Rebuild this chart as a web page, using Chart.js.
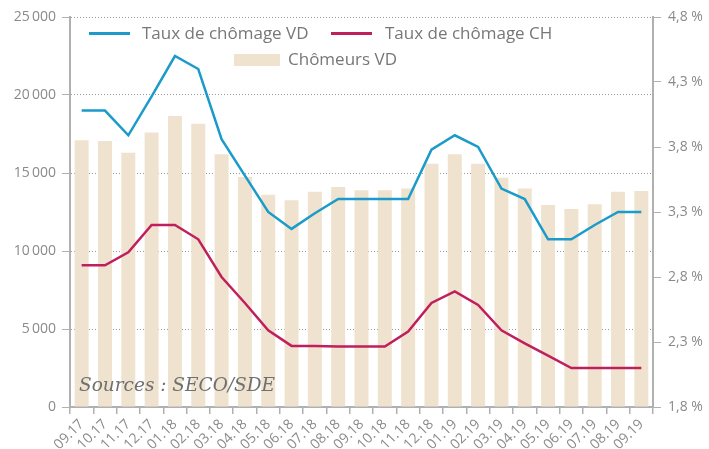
<!DOCTYPE html>
<html>
<head>
<meta charset="utf-8">
<script src="https://cdn.jsdelivr.net/npm/chart.js@4"></script>
<style>
  html, body { margin: 0; padding: 0; background: #fff; }
  #wrap { position: relative; width: 709px; height: 449px; }
  .lg { position: absolute; font-family: "Open Sans", sans-serif; font-size: 17px; color: #777; line-height: 20px; white-space: nowrap; }
  .sw { position: absolute; }
  #src { position: absolute; left: 79px; top: 374px; font-family: "DejaVu Serif", serif; font-style: italic; font-size: 18.5px; color: #707070; }
</style>
</head>
<body>
<div id="wrap">
  <canvas id="chart"></canvas>
  <div class="sw" style="left:89px;top:32px;width:41px;height:3px;background:#1a9bc9"></div>
  <div class="lg" style="left:142px;top:23px">Taux de chômage VD</div>
  <div class="sw" style="left:331px;top:32px;width:41px;height:3px;background:#c01f5e"></div>
  <div class="lg" style="left:385px;top:23px">Taux de chômage CH</div>
  <div class="sw" style="left:234px;top:54px;width:46px;height:12px;background:#efe3cf"></div>
  <div class="lg" style="left:288px;top:49px">Chômeurs VD</div>
  <div id="src">Sources : SECO/SDE</div>
</div>
<script>
const months = ['09.17','10.17','11.17','12.17','01.18','02.18','03.18','04.18','05.18','06.18','07.18','08.18','09.18',
                '10.18','11.18','12.18','01.19','02.19','03.19','04.19','05.19','06.19','07.19','08.19','09.19'];

// chômeurs VD (axe gauche)
const chomeursVD = [17100, 17050, 16300, 17600, 18650, 18150, 16200, 14750, 13600, 13250, 13800, 14100, 13900,
                    13900, 14000, 15600, 16200, 15600, 14700, 14000, 12950, 12700, 13000, 13800, 13850];

// taux en % (axe droit)
const tauxVD = [4.08, 4.08, 3.89, 4.19, 4.50, 4.40, 3.86, 3.58, 3.30, 3.17, 3.29, 3.40, 3.40,
                3.40, 3.40, 3.78, 3.89, 3.80, 3.48, 3.40, 3.09, 3.09, 3.20, 3.30, 3.30];
const tauxCH = [2.89, 2.89, 2.99, 3.20, 3.20, 3.09, 2.80, 2.60, 2.39, 2.27, 2.27, 2.265, 2.265,
                2.265, 2.38, 2.60, 2.69, 2.585, 2.39, 2.29, 2.195, 2.10, 2.10, 2.10, 2.10];

const grey = '#8a8a8a';
const axisGrey = '#b0b0b0';
const tickFont = { family: 'Open Sans', size: 14 };

function fmtThousands(v) {
  return String(v).replace(/\B(?=(\d{3})+(?!\d))/g, '\u2009');
}

new Chart(document.getElementById('chart'), {
  type: 'bar',
  data: {
    labels: months,
    datasets: [
      { type: 'line', label: 'Taux de chômage VD', data: tauxVD, yAxisID: 'y2',
        borderColor: '#1a9bc9', borderWidth: 2.5, pointRadius: 0, tension: 0, order: 0 },
      { type: 'line', label: 'Taux de chômage CH', data: tauxCH, yAxisID: 'y2',
        borderColor: '#c01f5e', borderWidth: 2.5, pointRadius: 0, tension: 0, order: 1 },
      { label: 'Chômeurs VD', data: chomeursVD, yAxisID: 'y',
        backgroundColor: '#efe3cf', barPercentage: 0.6, categoryPercentage: 1, order: 2 }
    ]
  },
  options: {
    responsive: true,
    maintainAspectRatio: false,
    animation: false,
    layout: { padding: { top: 17, right: 0, left: 0, bottom: 0 } },
    plugins: { legend: { display: false }, tooltip: { enabled: false } },
    scales: {
      x: {
        grid: { offset: true, drawOnChartArea: false, drawTicks: true, tickLength: 7, color: axisGrey, lineWidth: 1.5 },
        border: { color: axisGrey, width: 2 },
        ticks: { color: grey, font: { family: 'Open Sans', size: 14 }, minRotation: 45, maxRotation: 45, padding: 2, autoSkip: false },
        afterFit: s => { s.height = 42; }
      },
      y: {
        position: 'left',
        min: 0, max: 25000,
        ticks: { stepSize: 5000, color: grey, font: tickFont, padding: 6, callback: v => fmtThousands(v) },
        grid: { color: '#999', lineWidth: 1, tickLength: 8, tickColor: axisGrey, tickBorderDash: [] },
        border: { color: axisGrey, width: 2, dash: [1, 2] },
        afterFit: s => { s.width = 70; }
      },
      y2: {
        position: 'right',
        min: 1.8, max: 4.8,
        ticks: { stepSize: 0.5, color: grey, font: tickFont, padding: 7,
                 callback: v => v.toFixed(1).replace('.', ',') + ' %' },
        grid: { drawOnChartArea: false, tickLength: 8, color: axisGrey },
        border: { color: axisGrey, width: 2 },
        afterFit: s => { s.width = 56; }
      }
    }
  }
});
</script>
</body>
</html>
